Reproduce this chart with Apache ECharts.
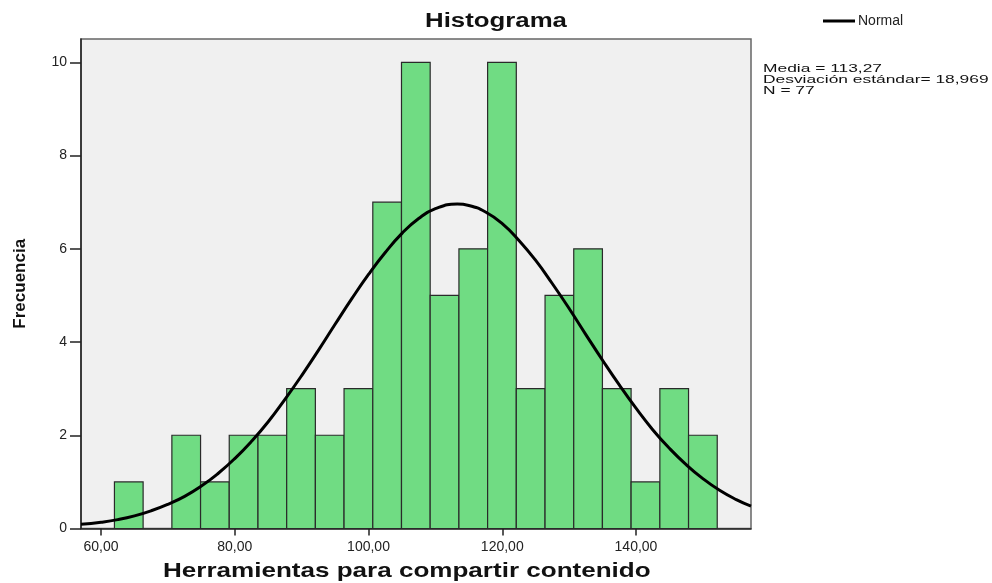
<!DOCTYPE html>
<html>
<head>
<meta charset="utf-8">
<script src="https://cdn.jsdelivr.net/npm/echarts@6/dist/echarts.min.js"></script>
<style>
html,body{margin:0;padding:0;background:#fff;}
#chart{width:992px;height:583px;}
</style>
</head>
<body>
<div id="chart"></div>
<script>
// Histogram bin edges (x values) and counts
var binEdges = [62.00, 66.29, 70.59, 74.88, 79.17, 83.47, 87.76, 92.05, 96.34, 100.64, 104.93,
                109.22, 113.52, 117.81, 122.10, 126.40, 130.69, 134.98, 139.27, 143.57, 147.86, 152.15];
var counts = [1, 0, 2, 1, 2, 2, 3, 2, 3, 7, 10, 5, 6, 10, 3, 5, 6, 3, 1, 3, 2];

// Normal curve points
var normalX = [57.0, 60, 62.5, 65, 67.5, 70, 72.5, 75, 77.5, 80, 82.5, 85, 87.5, 90, 92.5, 95, 97.5, 100,
               102.5, 105, 107.5, 110, 113.27, 115, 117.5, 120, 122.5, 125, 127.5, 130, 132.5, 135, 137.5,
               140, 142.5, 145, 147.5, 150, 152.5, 155, 157.2];
var normalY = [0.09, 0.135, 0.19, 0.27, 0.38, 0.52, 0.69, 0.91, 1.18, 1.50, 1.87, 2.29, 2.77, 3.28, 3.82, 4.38, 4.93, 5.45,
               5.92, 6.33, 6.65, 6.86, 6.96, 6.93, 6.79, 6.54, 6.18, 5.75, 5.25, 4.72, 4.16, 3.61, 3.08,
               2.58, 2.12, 1.72, 1.37, 1.07, 0.82, 0.62, 0.48];

// Tick values
var xTicks = [60, 80, 100, 120, 140];
var yTicks = [0, 2, 4, 6, 8, 10];

var titleText = 'Histograma';
var xName = 'Herramientas para compartir contenido';
var yName = 'Frecuencia';
var statsLines = ['Media = 113,27', 'Desviación estándar= 18,969', 'N = 77'];

var histData = [];
for (var i = 0; i < counts.length; i++) {
  histData.push([binEdges[i], binEdges[i + 1], counts[i]]);
}
var curveData = [];
for (var j = 0; j < normalX.length; j++) curveData.push([normalX[j], normalY[j]]);

var FONT = '"Liberation Sans", Arial, sans-serif';
var chart = echarts.init(document.getElementById('chart'));
chart.setOption({
  backgroundColor: '#ffffff',
  animation: false,
  legend: {
    left: 823,
    top: 14,
    padding: 0,
    itemWidth: 32,
    itemHeight: 3,
    data: [{name: 'Normal', icon: 'rect'}],
    textStyle: {fontFamily: FONT, fontSize: 14, color: '#222', padding: [0, 0, 0, -2]}
  },
  grid: {
    left: 81, right: 241, top: 39, bottom: 54.5,
    show: true,
    backgroundColor: '#f0f0f0',
    borderColor: '#666',
    borderWidth: 1.5
  },
  xAxis: {
    type: 'value',
    min: 57.0,
    max: 157.2,
    axisLine: {lineStyle: {color: '#222', width: 1.5}},
    axisTick: {show: true, length: 7, customValues: xTicks, lineStyle: {color: '#222', width: 1.5}},
    axisLabel: {
      customValues: xTicks,
      margin: 12,
      fontFamily: FONT, fontSize: 14, color: '#222',
      formatter: function (v) { return v.toFixed(2).replace('.', ','); }
    },
    splitLine: {show: false}
  },
  yAxis: {
    type: 'value',
    min: 0,
    max: 10.5,
    name: yName,
    nameLocation: 'middle',
    nameRotate: 90,
    nameGap: 52,
    nameTextStyle: {fontFamily: FONT, fontSize: 17, fontWeight: 'bold', color: '#111'},
    axisLine: {show: true, lineStyle: {color: '#222', width: 1.5}},
    axisTick: {show: true, length: 11, customValues: yTicks, lineStyle: {color: '#222', width: 1.5}},
    axisLabel: {
      customValues: yTicks,
      margin: 14,
      fontFamily: FONT, fontSize: 14, color: '#222'
    },
    splitLine: {show: false}
  },
  series: [
    {
      name: 'Histograma',
      type: 'custom',
      data: histData,
      encode: {x: [0, 1], y: 2},
      renderItem: function (params, api) {
        var c = api.value(2);
        if (!c) return null;
        var p0 = api.coord([api.value(0), 0]);
        var p1 = api.coord([api.value(1), c]);
        return {
          type: 'rect',
          shape: {x: p0[0], y: p1[1], width: p1[0] - p0[0], height: p0[1] - p1[1]},
          style: {fill: '#70dc83', stroke: '#2a2a2a', lineWidth: 1.2}
        };
      },
      z: 2
    },
    {
      name: 'Normal',
      type: 'line',
      data: curveData,
      smooth: true,
      showSymbol: false,
      symbol: 'none',
      lineStyle: {color: '#000', width: 3},
      itemStyle: {color: '#000'},
      z: 3
    }
  ],
  graphic: [
    {
      type: 'group',
      x: 425,
      y: 11,
      scaleX: 1.29,
      children: [{
        type: 'text', x: 0, y: 0,
        style: {text: titleText, font: 'bold 20px "Liberation Sans", Arial, sans-serif', fill: '#111'}
      }]
    },
    {
      type: 'group',
      x: 163,
      y: 561,
      scaleX: 1.24,
      children: [{
        type: 'text', x: 0, y: 0,
        style: {text: xName, font: 'bold 21px "Liberation Sans", Arial, sans-serif', fill: '#111'}
      }]
    },
    {
      type: 'group',
      x: 763,
      y: 63,
      scaleX: 1.58,
      children: [{
        type: 'text', x: 0, y: 0,
        style: {
          text: statsLines.join('\n'),
          font: '11px "Liberation Sans", Arial, sans-serif',
          lineHeight: 11,
          fill: '#111'
        }
      }]
    }
  ]
});
</script>
</body>
</html>
